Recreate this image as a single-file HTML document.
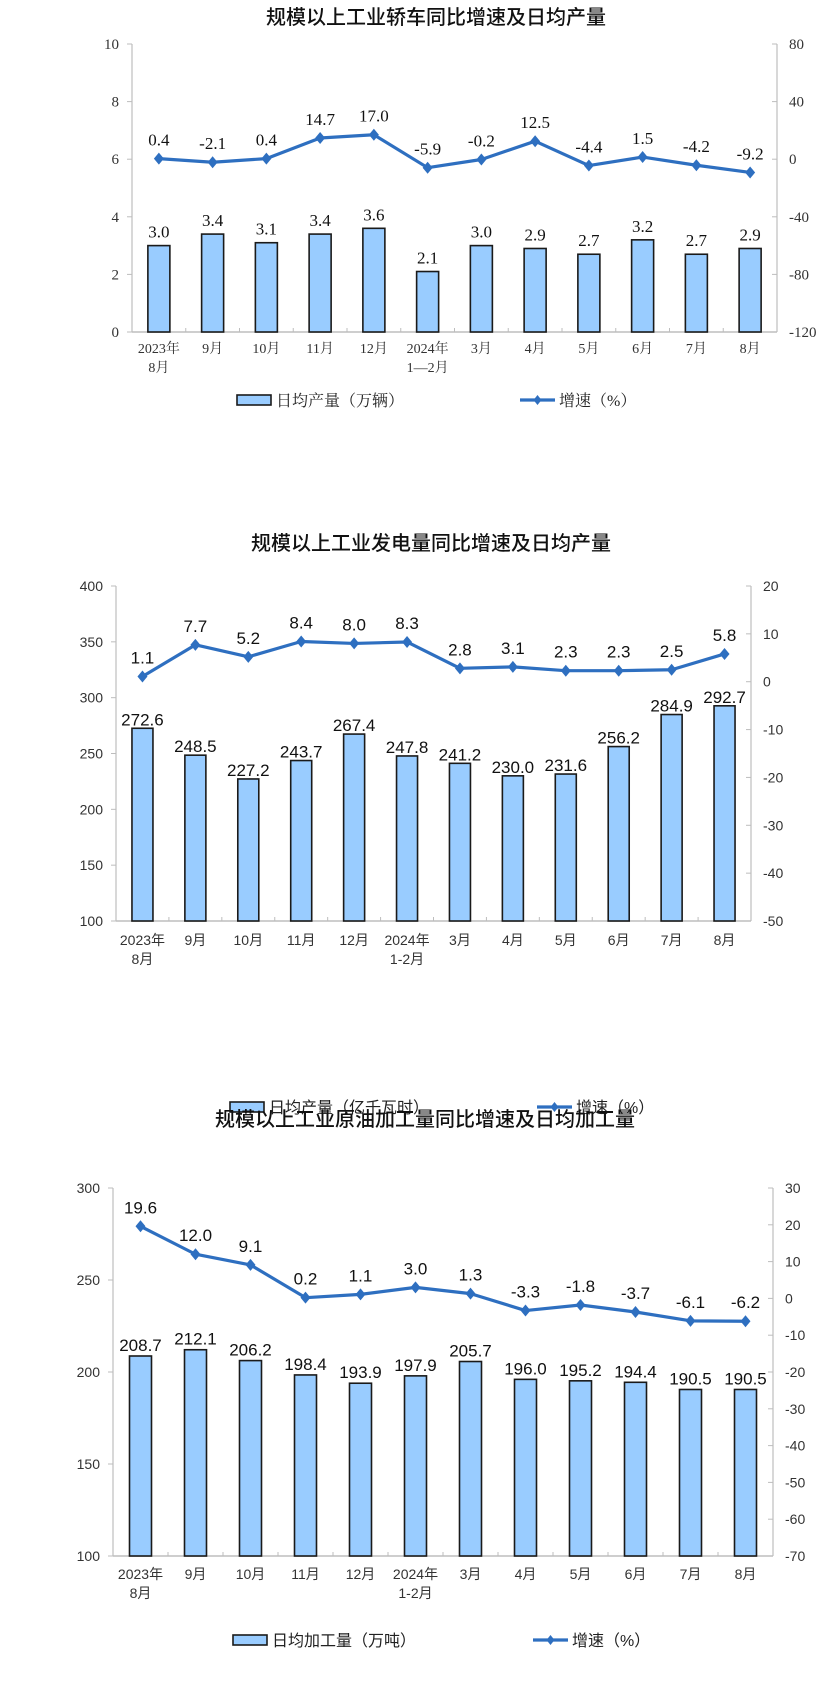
<!DOCTYPE html>
<html><head><meta charset="utf-8">
<style>
html,body{margin:0;padding:0;background:#fff;}
svg{display:block;}
</style></head>
<body>
<svg id="root" width="839" height="1695" viewBox="0 0 839 1695" xmlns="http://www.w3.org/2000/svg"></svg>
<script>
const categoriesLine1 = ["2023年","9月","10月","11月","12月","2024年","3月","4月","5月","6月","7月","8月"];
const categoriesLine2 = ["8月","","","","","1—2月","","","","","",""];
const categoriesLine2b = ["8月","","","","","1-2月","","","","","",""];

const carDailyOutput = [3.0,3.4,3.1,3.4,3.6,2.1,3.0,2.9,2.7,3.2,2.7,2.9];
const carGrowth = [0.4,-2.1,0.4,14.7,17.0,-5.9,-0.2,12.5,-4.4,1.5,-4.2,-9.2];
const carLeftTicks = [0,2,4,6,8,10];
const carRightTicks = [-120,-80,-40,0,40,80];

const powerDailyOutput = [272.6,248.5,227.2,243.7,267.4,247.8,241.2,230.0,231.6,256.2,284.9,292.7];
const powerGrowth = [1.1,7.7,5.2,8.4,8.0,8.3,2.8,3.1,2.3,2.3,2.5,5.8];
const powerLeftTicks = [100,150,200,250,300,350,400];
const powerRightTicks = [-50,-40,-30,-20,-10,0,10,20];

const oilDailyOutput = [208.7,212.1,206.2,198.4,193.9,197.9,205.7,196.0,195.2,194.4,190.5,190.5];
const oilGrowth = [19.6,12.0,9.1,0.2,1.1,3.0,1.3,-3.3,-1.8,-3.7,-6.1,-6.2];
const oilLeftTicks = [100,150,200,250,300];
const oilRightTicks = [-70,-60,-50,-40,-30,-20,-10,0,10,20,30];

const NS = "http://www.w3.org/2000/svg";
const root = document.getElementById("root");
function mk(tag, attrs, parent, text){
  const e = document.createElementNS(NS, tag);
  for (const k in attrs) e.setAttribute(k, attrs[k]);
  if (text !== undefined) e.textContent = text;
  (parent||root).appendChild(e);
  return e;
}

function drawChart(c){
  const g = mk("g", {});
  
  
  const t = mk("text", {x:c.titleX, y:c.titleY, "text-anchor":"middle", "font-size":20, "font-weight":"500", fill:"#111", "font-family":'"Noto Sans CJK SC", sans-serif'}, g, c.title);
  
  

  const n = c.bars.length;
  const step = (c.R - c.L) / n;
  const xc = i => c.L + step * (i + 0.5);
  const yL = v => c.B - (v - c.lmin) / (c.lmax - c.lmin) * (c.B - c.T);
  const yR = v => c.B - (v - c.rmin) / (c.rmax - c.rmin) * (c.B - c.T);

  // axes
  const la = mk("line", {x1:c.L, y1:c.T, x2:c.L, y2:c.B, stroke:"#bdbdbd", "stroke-width":1.2}, g);
  
  
  const ra = mk("line", {x1:c.R, y1:c.T, x2:c.R, y2:c.B, stroke:"#bdbdbd", "stroke-width":1.2}, g);
  
  
  const xa = mk("line", {x1:c.L, y1:c.B, x2:c.R, y2:c.B, stroke:"#bdbdbd", "stroke-width":1.5}, g);
  
  
  for (let i = 1; i < n; i++) {
    const x = c.L + step * i;
    mk("line", {x1:x, y1:c.B, x2:x, y2:c.B-4, stroke:"#bdbdbd", "stroke-width":1}, g);
  }
  c.lt.forEach(v => {
    const y = yL(v);
    mk("line", {x1:c.L-5, y1:y, x2:c.L, y2:y, stroke:"#bdbdbd", "stroke-width":1}, g);
    const tx = mk("text", {x:c.L-13, y:y+5, "text-anchor":"end", "font-size":c.tickSize, fill:"#333", "font-family":c.font}, g, String(v));
    
    
  });
  c.rt.forEach(v => {
    const y = yR(v);
    mk("line", {x1:c.R-5, y1:y, x2:c.R, y2:y, stroke:"#bdbdbd", "stroke-width":1}, g);
    const tx = mk("text", {x:c.R+12, y:y+5, "text-anchor":"start", "font-size":c.tickSize, fill:"#333", "font-family":c.font}, g, String(v));
    
    
  });

  // bars
  c.bars.forEach((v, i) => {
    const y = yL(v);
    const r = mk("rect", {x:xc(i)-c.bw/2, y:y, width:c.bw, height:c.B-y, fill:"#99ccff", stroke:"#1a1a1a", "stroke-width":1.6}, g);
    
    
    const lb = mk("text", {x:xc(i), y:y-c.barLabelGap, "text-anchor":"middle", "font-size":c.labelSize, fill:"#111", "font-family":c.font}, g, v.toFixed(1));
    
    
  });

  // line
  const pts = c.line.map((v, i) => xc(i) + "," + yR(v)).join(" ");
  const pl = mk("polyline", {points:pts, fill:"none", stroke:"#2e6fc0", "stroke-width":3.2, "stroke-linejoin":"round"}, g);
  
  
  c.line.forEach((v, i) => {
    const x = xc(i), y = yR(v);
    const d = mk("polygon", {points:`${x},${y-6} ${x+5},${y} ${x},${y+6} ${x-5},${y}`, fill:"#2e6fc0"}, g);
    
    
    const lb = mk("text", {x:x, y:y-c.lineLabelGap, "text-anchor":"middle", "font-size":c.labelSize, fill:"#111", "font-family":c.font}, g, v.toFixed(1));
    
    
  });

  // x labels
  c.cat1.forEach((s, i) => {
    const a = mk("text", {x:xc(i), y:c.xl1, "text-anchor":"middle", "font-size":14, fill:"#333", "font-family":c.catFont}, g, s);
    
    
    if (c.cat2[i]) {
      const b = mk("text", {x:xc(i), y:c.xl2, "text-anchor":"middle", "font-size":14, fill:"#333", "font-family":c.catFont}, g, c.cat2[i]);
      
      
    }
  });

  // legend
  const lg = mk("g", {}, g);
  
  
  const e1 = mk("rect", {x:c.lgBox, y:c.lgY-5, width:34, height:10, fill:"#99ccff", stroke:"#1a1a1a", "stroke-width":1.6}, lg);
  
  
  const e1t = mk("text", {x:c.lgBox+39, y:c.lgY+6, "font-size":16, fill:"#222", "font-family":c.catFont}, lg, c.barLegend);
  
  
  const e2 = mk("line", {x1:c.lgLine, y1:c.lgY, x2:c.lgLine+35, y2:c.lgY, stroke:"#2e6fc0", "stroke-width":3.2}, lg);
  
  
  mk("polygon", {points:`${c.lgLine+17.5},${c.lgY-5} ${c.lgLine+21.5},${c.lgY} ${c.lgLine+17.5},${c.lgY+5} ${c.lgLine+13.5},${c.lgY}`, fill:"#2e6fc0"}, lg);
  const e2t = mk("text", {x:c.lgLine+39, y:c.lgY+6, "font-size":16, fill:"#222", "font-family":c.catFont}, lg, "增速（%）");
  
  
}

const serif = '"Liberation Serif", "Noto Serif CJK SC", serif';
const sans = '"Liberation Sans", "Noto Sans CJK SC", sans-serif';

drawChart({name:"car-chart", title:"规模以上工业轿车同比增速及日均产量", titleX:436, titleY:24,
  L:132, R:777, T:44, B:332, lmin:0, lmax:10, rmin:-120, rmax:80, lt:carLeftTicks, rt:carRightTicks,
  bars:carDailyOutput, line:carGrowth, bw:22, font:serif, catFont:serif, tickSize:15, labelSize:17,
  barLabelGap:8, lineLabelGap:13, cat1:categoriesLine1, cat2:categoriesLine2, xl1:353, xl2:372,
  lgY:400, lgBox:237, lgLine:520, barLegend:"日均产量（万辆）"});

drawChart({name:"power-chart", title:"规模以上工业发电量同比增速及日均产量", titleX:431, titleY:550,
  L:116, R:751, T:586, B:921, lmin:100, lmax:400, rmin:-50, rmax:20, lt:powerLeftTicks, rt:powerRightTicks,
  bars:powerDailyOutput, line:powerGrowth, bw:21, font:sans, catFont:sans, tickSize:14, labelSize:17,
  barLabelGap:3, lineLabelGap:13, cat1:categoriesLine1, cat2:categoriesLine2b, xl1:945, xl2:964,
  lgY:1107, lgBox:230, lgLine:537, barLegend:"日均产量（亿千瓦时）"});

drawChart({name:"oil-chart", title:"规模以上工业原油加工量同比增速及日均加工量", titleX:425, titleY:1126,
  L:113, R:773, T:1188, B:1556, lmin:100, lmax:300, rmin:-70, rmax:30, lt:oilLeftTicks, rt:oilRightTicks,
  bars:oilDailyOutput, line:oilGrowth, bw:22, font:sans, catFont:sans, tickSize:14, labelSize:17,
  barLabelGap:5, lineLabelGap:13, cat1:categoriesLine1, cat2:categoriesLine2b, xl1:1579, xl2:1598,
  lgY:1640, lgBox:233, lgLine:533, barLegend:"日均加工量（万吨）"});
</script>
</body></html>
